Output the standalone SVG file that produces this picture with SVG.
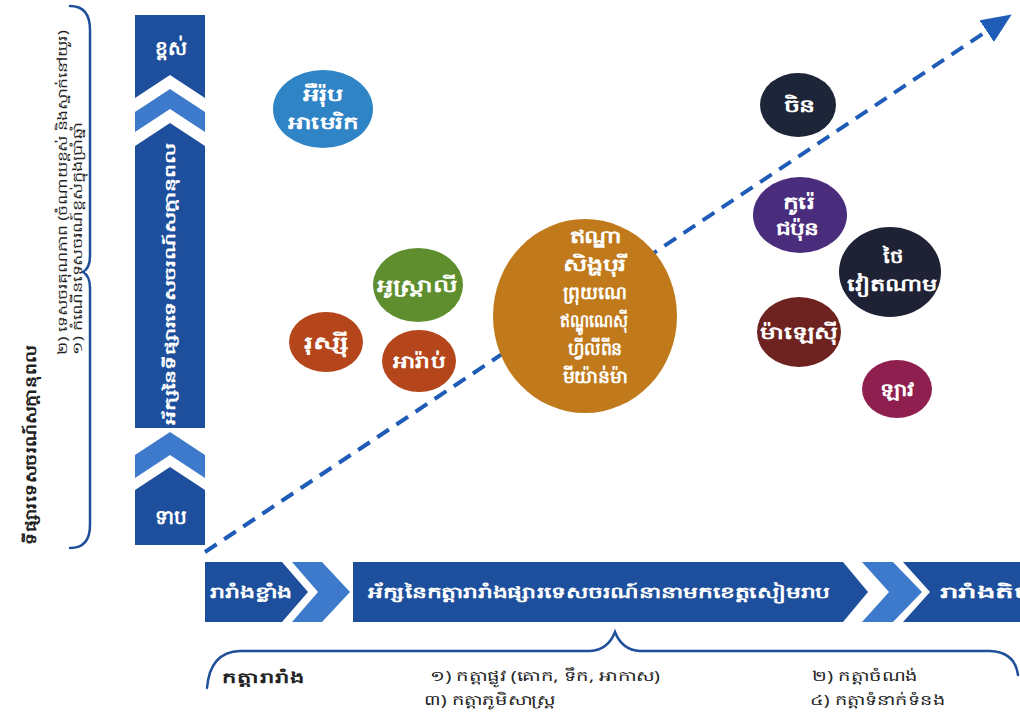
<svg xmlns="http://www.w3.org/2000/svg" width="1020" height="718" viewBox="0 0 1020 718">
<defs>
<style>
.kh{font-family:"Noto Sans","Liberation Sans",sans-serif;}
.wt{fill:#ffffff;font-weight:bold;text-anchor:middle;}
.dk{fill:#1e4f9c;}
.lt{fill:#3e7acb;}
.brace{fill:none;stroke:#1f4e9a;stroke-width:2.5;stroke-linecap:round;}
.bub{font-size:18px;}
.lbl{fill:#222222;font-size:14px;}
</style>
<marker id="ah" markerUnits="userSpaceOnUse" markerWidth="30" markerHeight="26" refX="4" refY="13" orient="auto">
<path d="M0,0 L30,13 L0,26 Z" fill="#1f5cb8"/>
</marker>
</defs>
<rect width="1020" height="718" fill="#ffffff"/>

<g id="left-brace">
<path class="brace" d="M70,6 Q90,6 90,30 L90,256 Q90,268 83,272 Q90,276 90,288 L90,525 Q90,548 70,548"/>
<text class="kh" font-size="13" fill="#222" textLength="325" lengthAdjust="spacingAndGlyphs" transform="translate(67,355) rotate(-90)">២) ទេសចរគុណភាព (ចំណាយខ្ពស់ និងស្នាក់នៅយូរ)</text>
<text class="kh" font-size="13" fill="#222" textLength="232" lengthAdjust="spacingAndGlyphs" transform="translate(82,355) rotate(-90)">១) កំណើនទេសចរណ៍ខ្ពស់ក្នុងប្រាំឆ្នាំ</text>
<text class="kh" font-size="15" font-weight="bold" fill="#222" textLength="200" lengthAdjust="spacingAndGlyphs" transform="translate(36,545) rotate(-90)">ទីផ្សារទេសចរណ៍សក្តានុពល</text>
</g>

<g id="vertical-axis">
<path class="dk" d="M135,15 H205 V98 L170,75 L135,98 Z"/>
<path class="lt" d="M135,112 L170,89 L205,112 V132 L170,109 L135,132 Z"/>
<path class="dk" d="M135,146 L170,123 L205,146 V428 H135 Z"/>
<path class="lt" d="M135,455 L170,432 L205,455 V478 L170,455 L135,478 Z"/>
<path class="dk" d="M135,490 L170,467 L205,490 V545 H135 Z"/>
<text class="kh wt" font-size="20" x="171" y="55">ខ្ពស់</text>
<text class="kh wt" font-size="20" x="171" y="524">ទាប</text>
<text class="kh wt" font-size="14" textLength="282" lengthAdjust="spacingAndGlyphs" transform="translate(175,284) rotate(-90)">អ័ក្សនៃទីផ្សារទេសចរណ៍សក្តានុពល</text>
</g>

<g id="connectors">
<line x1="205" y1="552" x2="990" y2="29" stroke="#1f5cb8" stroke-width="4" stroke-dasharray="14 9" marker-end="url(#ah)"/>
</g>

<g id="europe-america">
<ellipse cx="323" cy="109" rx="50" ry="39" fill="#2f84c6"/>
<text class="kh wt bub" x="323" y="101" textLength="40" lengthAdjust="spacingAndGlyphs">អឺរ៉ុប</text>
<text class="kh wt bub" x="323" y="129" textLength="70" lengthAdjust="spacingAndGlyphs">អាមេរិក</text>
</g>
<g id="australia">
<ellipse cx="418" cy="285" rx="45" ry="37" fill="#5e8e2e"/>
<text class="kh wt bub" x="417" y="292" textLength="80" lengthAdjust="spacingAndGlyphs">អូស្ត្រាលី</text>
</g>
<g id="russia">
<ellipse cx="326" cy="342" rx="37" ry="30" fill="#b5451b"/>
<text class="kh wt bub" x="326" y="349" textLength="45" lengthAdjust="spacingAndGlyphs">រុស្ស៊ី</text>
</g>
<g id="arab">
<ellipse cx="419" cy="361" rx="37" ry="31" fill="#b5451b"/>
<text class="kh wt bub" x="419" y="368" textLength="52" lengthAdjust="spacingAndGlyphs">អារ៉ាប់</text>
</g>
<g id="asean-group">
<ellipse cx="585" cy="316" rx="92" ry="97" fill="#c07a1c"/>
<text class="kh wt bub" x="596" y="243" textLength="53" lengthAdjust="spacingAndGlyphs">ឥណ្ឌា</text>
<text class="kh wt bub" x="595" y="271" textLength="64" lengthAdjust="spacingAndGlyphs">សិង្ហបុរី</text>
<text class="kh wt bub" x="595" y="299" textLength="64" lengthAdjust="spacingAndGlyphs">ព្រុយណេ</text>
<text class="kh wt bub" x="594" y="327" textLength="68" lengthAdjust="spacingAndGlyphs">ឥណ្ឌូណេស៊ី</text>
<text class="kh wt bub" x="595" y="355" textLength="54" lengthAdjust="spacingAndGlyphs">ហ្វីលីពីន</text>
<text class="kh wt bub" x="595" y="383" textLength="65" lengthAdjust="spacingAndGlyphs">មីយ៉ាន់ម៉ា</text>
</g>
<g id="china">
<ellipse cx="798" cy="105" rx="38" ry="32" fill="#1d2538"/>
<text class="kh wt bub" x="799" y="112" textLength="31" lengthAdjust="spacingAndGlyphs">ចិន</text>
</g>
<g id="korea-japan">
<ellipse cx="800" cy="215" rx="47" ry="38" fill="#4a2c7d"/>
<text class="kh wt bub" x="799" y="209" textLength="32" lengthAdjust="spacingAndGlyphs">កូរ៉េ</text>
<text class="kh wt bub" x="797" y="235" textLength="43" lengthAdjust="spacingAndGlyphs">ជប៉ុន</text>
</g>
<g id="thailand-vietnam">
<ellipse cx="890" cy="272" rx="51" ry="45" fill="#1f2235"/>
<text class="kh wt bub" x="893" y="263" textLength="20" lengthAdjust="spacingAndGlyphs">ថៃ</text>
<text class="kh wt bub" x="892" y="291" textLength="90" lengthAdjust="spacingAndGlyphs">វៀតណាម</text>
</g>
<g id="malaysia">
<ellipse cx="799" cy="332" rx="42" ry="35" fill="#6e2320"/>
<text class="kh wt bub" x="799" y="339" textLength="78" lengthAdjust="spacingAndGlyphs">ម៉ាឡេស៊ី</text>
</g>
<g id="laos">
<ellipse cx="897" cy="389" rx="35" ry="29" fill="#8f1f4f"/>
<text class="kh wt bub" x="897" y="396" textLength="35" lengthAdjust="spacingAndGlyphs">ឡាវ</text>
</g>

<g id="horizontal-axis">
<path class="dk" d="M205,562 H282 L308,592 L282,622 H205 Z"/>
<path class="lt" d="M292,562 H322 L350,592 L322,622 H292 L318,592 Z"/>
<path class="dk" d="M353,562 H843 L868,592 L843,622 H353 Z"/>
<path class="lt" d="M862,562 H893 L922,592 L893,622 H862 L889,592 Z"/>
<path class="dk" d="M903,562 H1020 V622 H903 L930,592 Z"/>
<text class="kh" font-size="16" font-weight="bold" fill="#ffffff" x="210" y="598" textLength="82" lengthAdjust="spacingAndGlyphs">រារាំងខ្លាំង</text>
<text class="kh" font-size="16" font-weight="bold" fill="#ffffff" x="368" y="598" textLength="462" lengthAdjust="spacingAndGlyphs">អ័ក្សនៃកត្តារារាំងផ្សារទេសចរណ៍នានាមកខេត្តសៀមរាប</text>
<text class="kh" font-size="16" font-weight="bold" fill="#ffffff" x="940" y="598" textLength="92" lengthAdjust="spacingAndGlyphs">រារាំងតិច</text>
</g>

<g id="bottom-brace">
<path class="brace" d="M207,688 Q210,652 240,651 L590,651 Q608,650 615,632 Q622,650 640,651 L990,651 Q1015,652 1018,675"/>
<text class="kh" font-size="15" font-weight="bold" fill="#222" x="222" y="683" textLength="83" lengthAdjust="spacingAndGlyphs">កត្តារារាំង</text>
<text class="kh lbl" x="430" y="681" textLength="230" lengthAdjust="spacingAndGlyphs">១) កត្តាផ្លូវ (គោក, ទឹក, អាកាស)</text>
<text class="kh lbl" x="424" y="705" textLength="131" lengthAdjust="spacingAndGlyphs">៣) កត្តាភូមិសាស្ត្រ</text>
<text class="kh lbl" x="812" y="681" textLength="106" lengthAdjust="spacingAndGlyphs">២) កត្តាចំណង់</text>
<text class="kh lbl" x="810" y="705" textLength="135" lengthAdjust="spacingAndGlyphs">៤) កត្តាទំនាក់ទំនង</text>
</g>
</svg>
